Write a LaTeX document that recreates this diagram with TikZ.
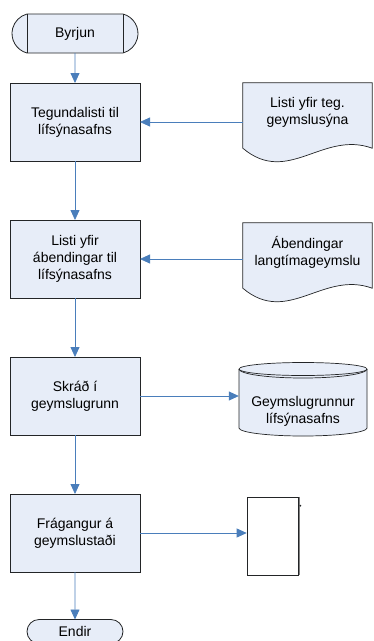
\documentclass[tikz,border=0pt]{standalone}
\usepackage{fontspec}
\setmainfont{Liberation Sans}
\usepackage{tikz}
\usetikzlibrary{shapes}
\usetikzlibrary{arrows.meta}
\usetikzlibrary{shadows}
\usetikzlibrary{calc}
\usetikzlibrary{positioning}
\usetikzlibrary{backgrounds}
\usepackage{xcolor}
\definecolor{myblack}{HTML}{232527}
\definecolor{myblue}{HTML}{4A7EBB}
\definecolor{myfill}{HTML}{E7EDF8}
\tikzset{x=1pt, y=1pt, node distance=59pt, every text node part/.style={align=center, font={\fontsize{14}{17}\selectfont}}}
\tikzstyle{block} = [draw=myblack, fill=myfill, minimum width=130pt, minimum height=78pt, inner sep=2pt, outer sep=0pt, line width=0.8pt, drop shadow={shadow xshift=0.8pt, shadow yshift=-0.8pt, fill=gray, opacity=0.7}]
\tikzstyle{term} = [rounded rectangle, draw=myblack, fill=myfill, line width=0.8pt, inner sep=2pt, outer sep=0pt]
\tikzstyle{paper} = [draw=myblack, fill=myfill, line width=0.7pt]
\tikzstyle{ln} = [draw=myblue, line width=0.8pt, arrows={-Triangle[length=10pt, width=9pt]}]

\begin{document}
\begin{tikzpicture}
  \useasboundingbox (0,0) rectangle (373,-641);
  % main column
  \node[term, minimum width=130pt, minimum height=39pt, rounded rectangle arc length=150] (byrjun) at (75,-33.5) {Byrjun};
  \draw[myblack, line width=0.8pt] ($(byrjun.west |- byrjun.north)+(15,0)$) -- ($(byrjun.west |- byrjun.south)+(15,0)$);
  \draw[myblack, line width=0.8pt] ($(byrjun.east |- byrjun.north)+(-15,0)$) -- ($(byrjun.east |- byrjun.south)+(-15,0)$);
  \node[block, below=30pt of byrjun] (tegund) {Tegundalisti til\\lífsýnasafns};
  \node[block, below=of tegund] (abend) {Listi yfir\\ábendingar til\\lífsýnasafns};
  \node[block, below=of abend] (skrad) {Skráð í\\geymslugrunn};
  \node[block, below=of skrad] (frag) {Frágangur á\\geymslustaði};
  \node[term, minimum width=100pt, minimum height=24pt, below=47.5pt of frag] (endir) {Endir};
  % right column
  \node[minimum width=129pt, minimum height=58pt, inner sep=0pt] (tegdoc) at (307.5,-112) {Listi yfir teg.\\geymslusýna};
  \node[minimum width=129pt, minimum height=58pt, inner sep=0pt] (abdoc) at (307.5,-252) {Ábendingar\\langtímageymslu};
  \begin{pgfonlayer}{background}
    \filldraw[paper] (tegdoc.north west) -- (tegdoc.north east) -- ($(tegdoc.south east)+(0,-7)$) .. controls ($(tegdoc.south west)+(80,11)$) and ($(tegdoc.south west)+(45,-45)$) .. ($(tegdoc.south west)+(0,-7)$) -- cycle;
    \filldraw[paper] (abdoc.north west) -- (abdoc.north east) -- ($(abdoc.south east)+(0,-7)$) .. controls ($(abdoc.south west)+(80,11)$) and ($(abdoc.south west)+(45,-45)$) .. ($(abdoc.south west)+(0,-7)$) -- cycle;
    \filldraw[paper] (239,-369) -- (239,-428) arc[start angle=180, end angle=360, x radius=64, y radius=8] -- (367,-369) arc[start angle=0, end angle=180, x radius=64, y radius=6.5] -- cycle;
    \draw[paper, fill=none] (239,-369) arc[start angle=180, end angle=360, x radius=64, y radius=6.5];
    \draw[paper, fill=none] (239,-369) arc[start angle=180, end angle=360, x radius=64, y radius=9];
  \end{pgfonlayer}
  \node[minimum width=128pt, inner sep=0pt] (grunnur) at (303,-411) {Geymslugrunnur\\lífsýnasafns};
  \node[draw=myblack, line width=0.6pt, minimum width=51pt, minimum height=78pt, inner sep=0pt] (skjal) at (272.5,-536) {};
  \draw[gray, line width=1.4pt] ($(skjal.north east)+(0.9,0)$) -- ($(skjal.south east)+(0.9,0)$);
  \fill[myblack] ($(skjal.north east)+(2,-9)$) circle (1);
  % connectors
  \draw[ln] (byrjun) -- (tegund);
  \draw[ln] (tegund) -- (abend);
  \draw[ln] (abend) -- (skrad);
  \draw[ln] (skrad) -- (frag);
  \draw[ln] (frag) -- (endir);
  \draw[ln] (tegund.east -| tegdoc.west) -- (tegund.east);
  \draw[ln] (abend.east -| abdoc.west) -- (abend.east);
  \draw[ln] (skrad.east) -- (skrad.east -| grunnur.west);
  \draw[ln] (frag.east) -- (frag.east -| skjal.west);
\end{tikzpicture}
\end{document}
